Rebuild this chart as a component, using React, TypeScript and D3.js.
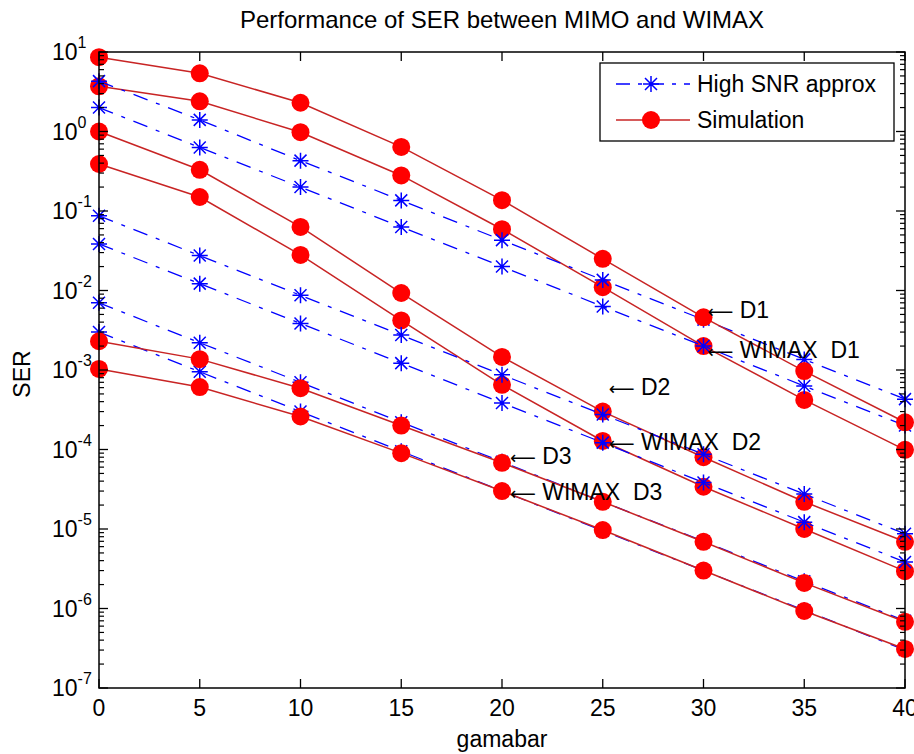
import * as d3 from 'd3';

// gamabar (dB) and SER values
const GAMMA = [0, 5, 10, 15, 20, 25, 30, 35, 40];

// Simulation (red, circles)
const SIM_D1 = [8.6, 5.4, 2.3, 0.64, 0.137, 0.025, 0.0046, 9.7e-4, 2.2e-4];
const SIM_WIMAX_D1 = [3.7, 2.4, 0.98, 0.28, 0.059, 0.011, 0.002, 4.2e-4, 9.9e-5];
const SIM_D2 = [1.0, 0.33, 0.063, 0.0093, 1.46e-3, 3.0e-4, 8.0e-5, 2.2e-5, 6.9e-6];
const SIM_WIMAX_D2 = [0.39, 0.15, 0.028, 0.0042, 6.5e-4, 1.28e-4, 3.4e-5, 1.0e-5, 2.95e-6];
const SIM_D3 = [2.3e-3, 1.37e-3, 5.9e-4, 2.0e-4, 6.8e-5, 2.2e-5, 6.9e-6, 2.1e-6, 6.8e-7];
const SIM_WIMAX_D3 = [1.03e-3, 6.1e-4, 2.6e-4, 9.0e-5, 3.0e-5, 9.7e-6, 3.0e-6, 9.3e-7, 3.1e-7];

// High SNR approx (blue, stars)
const APX_D1 = [4.3, 1.4, 0.43, 0.136, 0.043, 0.0136, 0.0043, 1.36e-3, 4.3e-4];
const APX_WIMAX_D1 = [2.0, 0.63, 0.2, 0.063, 0.02, 0.0063, 0.002, 6.3e-4, 2.0e-4];
const APX_D2 = [0.087, 0.0275, 0.0087, 0.00275, 8.7e-4, 2.75e-4, 8.7e-5, 2.75e-5, 8.7e-6];
const APX_WIMAX_D2 = [0.0385, 0.0122, 0.00385, 0.00122, 3.85e-4, 1.22e-4, 3.85e-5, 1.22e-5, 3.85e-6];
const APX_D3 = [7.0e-3, 2.2e-3, 7.0e-4, 2.2e-4, 7.0e-5, 2.2e-5, 7.0e-6, 2.2e-6, 7.0e-7];
const APX_WIMAX_D3 = [3.0e-3, 9.5e-4, 3.0e-4, 9.5e-5, 3.0e-5, 9.5e-6, 3.0e-6, 9.5e-7, 3.0e-7];

// drawing order as in the figure: some red curves sit under the blue ones, some over
const SIM_UNDER = [SIM_WIMAX_D1, SIM_D2, SIM_WIMAX_D2];
const APX_SERIES = [APX_D1, APX_WIMAX_D1, APX_D2, APX_WIMAX_D2, APX_D3, APX_WIMAX_D3];
const SIM_OVER = [SIM_D1, SIM_D3, SIM_WIMAX_D3];

// text annotations: [gamabar, SER, label]
const NOTES: [number, number, string][] = [
  [30.2, 5.7e-3, 'D1'],
  [30.2, 1.8e-3, 'WIMAX  D1'],
  [25.3, 6.1e-4, 'D2'],
  [25.3, 1.24e-4, 'WIMAX  D2'],
  [20.4, 8.3e-5, 'D3'],
  [20.4, 2.9e-5, 'WIMAX  D3'],
];

const X_TICKS = [0, 5, 10, 15, 20, 25, 30, 35, 40];
const Y_EXPS = [1, 0, -1, -2, -3, -4, -5, -6, -7];
const LEGEND = ['High SNR approx', 'Simulation'];

const W = 914, H = 754;
const M = { left: 99, right: 9, top: 52, bottom: 66 };
const FONT = '"Liberation Sans", Arial, Helvetica, sans-serif';
const RED_LINE = '#c82424';
const RED = '#ff0000';
const BLUE = '#0000ff';
const DASH = '15,9,4,9';

function Star({ x, y }: { x: number; y: number }) {
  const a = 8, b = 6;
  const d = `M${x - a},${y}H${x + a}M${x},${y - a}V${y + a}M${x - b},${y - b}L${x + b},${y + b}M${x - b},${y + b}L${x + b},${y - b}`;
  return <path d={d} stroke={BLUE} strokeWidth={1.5} fill="none" />;
}

export default function App() {
  const x = d3.scaleLinear().domain([0, 40]).range([M.left, W - M.right]);
  const y = d3.scaleLog().domain([1e-7, 10]).range([H - M.bottom, M.top]);
  const line = d3.line<number>().x((_, i) => x(GAMMA[i])).y(v => y(v));

  const x0 = M.left, x1 = W - M.right, y0 = M.top, y1 = H - M.bottom;

  // minor log ticks
  const minor: number[] = [];
  for (let e = -7; e < 1; e++) for (let k = 2; k <= 9; k++) minor.push(k * Math.pow(10, e));

  const simGroup = (s: number[], key: string) => (
    <g key={key}>
      <path d={line(s) ?? ''} fill="none" stroke={RED_LINE} strokeWidth={1.5} />
      {s.map((v, j) => (
        <circle key={j} cx={x(GAMMA[j])} cy={y(v)} r={9} fill={RED} />
      ))}
    </g>
  );

  return (
    <div style={{ position: 'absolute', left: 0, top: 0 }}>
      <svg width={W} height={H} style={{ display: 'block', background: '#fff' }} fontFamily={FONT}>
        <rect x={0} y={0} width={W} height={H} fill="#fff" />

        {/* title */}
        <text x={(x0 + x1) / 2} y={28} textAnchor="middle" fontSize={24} fill="#000">
          Performance of SER between MIMO and WIMAX
        </text>

        {SIM_UNDER.map((s, i) => simGroup(s, 'su' + i))}

        {/* high SNR approximation */}
        {APX_SERIES.map((s, i) => (
          <g key={'a' + i}>
            <path d={line(s) ?? ''} fill="none" stroke={BLUE} strokeWidth={1.3} strokeDasharray={DASH} />
            {s.map((v, j) => (
              <Star key={j} x={x(GAMMA[j])} y={y(v)} />
            ))}
          </g>
        ))}

        {SIM_OVER.map((s, i) => simGroup(s, 'so' + i))}

        {/* annotations */}
        {NOTES.map(([gx, sv, t], i) => (
          <text key={'n' + i} x={x(gx)} y={y(sv) + 8} fontSize={23} fill="#000" style={{ whiteSpace: 'pre' }}>
            <tspan fontFamily='"DejaVu Sans", sans-serif' fontSize={18}>{'\u27F5'}</tspan>
            <tspan>{' ' + t}</tspan>
          </text>
        ))}

        {/* axes box */}
        <rect x={x0} y={y0} width={x1 - x0} height={y1 - y0} fill="none" stroke="#000" strokeWidth={1.5} />

        {/* x ticks */}
        {X_TICKS.map(t => (
          <g key={'x' + t}>
            <line x1={x(t)} x2={x(t)} y1={y1} y2={y1 - 9} stroke="#000" strokeWidth={1.3} />
            <line x1={x(t)} x2={x(t)} y1={y0} y2={y0 + 9} stroke="#000" strokeWidth={1.3} />
            <text x={x(t)} y={y1 + 28} textAnchor="middle" fontSize={23} fill="#000">{t}</text>
          </g>
        ))}

        {/* y ticks */}
        {Y_EXPS.map(e => {
          const yy = y(Math.pow(10, e));
          return (
            <g key={'y' + e}>
              <line x1={x0} x2={x0 + 9} y1={yy} y2={yy} stroke="#000" strokeWidth={1.3} />
              <line x1={x1} x2={x1 - 9} y1={yy} y2={yy} stroke="#000" strokeWidth={1.3} />
              <text x={52} y={yy + 8} fontSize={23} fill="#000">
                10<tspan dy={-12} fontSize={16}>{e}</tspan>
              </text>
            </g>
          );
        })}
        {minor.map((v, i) => (
          <g key={'m' + i}>
            <line x1={x0} x2={x0 + 5} y1={y(v)} y2={y(v)} stroke="#000" strokeWidth={1.2} />
            <line x1={x1} x2={x1 - 5} y1={y(v)} y2={y(v)} stroke="#000" strokeWidth={1.2} />
          </g>
        ))}

        {/* axis labels */}
        <text x={(x0 + x1) / 2} y={747} textAnchor="middle" fontSize={23} fill="#000">gamabar</text>
        <text transform={`translate(30,${(y0 + y1) / 2 + 4}) rotate(-90)`} textAnchor="middle" fontSize={23} fill="#000">SER</text>

        {/* legend */}
        <g>
          <rect x={600} y={63} width={294} height={78} fill="#fff" stroke="#000" strokeWidth={1.3} />
          <line x1={616} x2={690} y1={84} y2={84} stroke={BLUE} strokeWidth={1.3} strokeDasharray="14,8,4,8" />
          <Star x={651} y={84} />
          <text x={697} y={92} fontSize={23} fill="#000">{LEGEND[0]}</text>
          <line x1={616} x2={690} y1={120} y2={120} stroke={RED_LINE} strokeWidth={1.5} />
          <circle cx={651} cy={120} r={9} fill={RED} />
          <text x={697} y={128} fontSize={23} fill="#000">{LEGEND[1]}</text>
        </g>
      </svg>
    </div>
  );
}
